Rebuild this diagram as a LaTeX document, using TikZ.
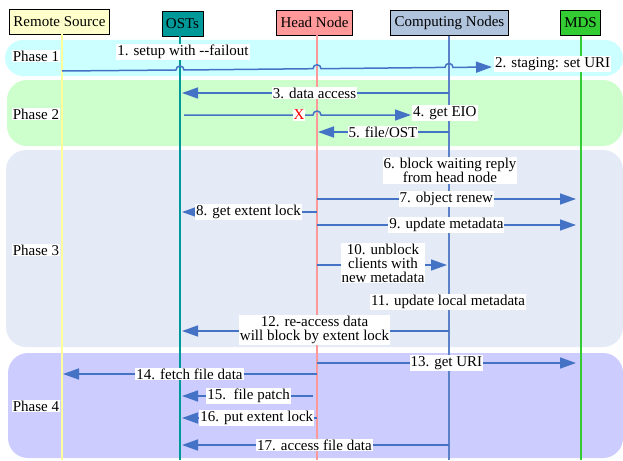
\documentclass[tikz,border=0pt]{standalone}
\usepackage{fontspec}
\setmainfont{Liberation Serif}
\usetikzlibrary{arrows.meta}
\definecolor{msgblue}{HTML}{4472C4}
\definecolor{pone}{HTML}{CCFFFF}
\definecolor{ptwo}{HTML}{CCFFCC}
\definecolor{pthree}{HTML}{E5EBF6}
\definecolor{pfour}{HTML}{CCCCFF}
\definecolor{rsfill}{HTML}{FFFFCC}
\definecolor{rsline}{HTML}{FFFF99}
\definecolor{ostcol}{HTML}{009999}
\definecolor{hncol}{HTML}{FF9999}
\definecolor{cnfill}{HTML}{B0C4DE}
\definecolor{cnline}{HTML}{5B82C8}
\definecolor{mdscol}{HTML}{33CC33}
\begin{document}
\begin{tikzpicture}[x=1pt,y=-1pt,font=\fontsize{15}{14}\selectfont,
  msg/.style={draw=msgblue,line width=1.5pt,-{Triangle[length=16pt,width=11pt]},shorten >=2pt},
  lbl/.style={fill=white,inner sep=1pt,align=center},
  hdr/.style={draw=black,line width=0.8pt,minimum height=25pt,inner xsep=4pt,inner ysep=0pt},
  phase/.style={rounded corners=20pt},
  life/.style={line width=1.5pt}]
\useasboundingbox (0,0) rectangle (623,460);
% phases
\fill[pone,rounded corners=18pt] (5,40) rectangle (623,76);
\fill[ptwo,phase] (7,80) rectangle (623,146);
\fill[pthree,phase] (6,150) rectangle (623,347);
\fill[pfour,phase] (8,353) rectangle (623,458);
% headers
\node[hdr,fill=rsfill] (RS) at (59.5,21.5) {Remote Source};
\node[hdr,fill=ostcol] (OST) at (182.5,23.5) {OSTs};
\node[hdr,fill=hncol] (HN) at (314.5,22.5) {Head Node};
\node[hdr,fill=cnfill] (CN) at (449.5,23) {Computing Nodes};
\node[hdr,fill=mdscol] (MDS) at (580.5,23) {MDS};
% lifelines
\coordinate (lRS) at (62,0);
\coordinate (lOST) at (180,0);
\coordinate (lHN) at (317,0);
\coordinate (lCN) at (449,0);
\coordinate (lMDS) at (581,0);
\coordinate (bot) at (0,460);
\draw[life,rsline] (lRS |- RS.south) -- (lRS |- bot);
\draw[life,ostcol] (lOST |- OST.south) -- (lOST |- bot);
\draw[life,hncol] (lHN |- HN.south) -- (lHN |- bot);
\draw[life,cnline] (lCN |- CN.south) -- (lCN |- bot);
\draw[life,mdscol] (lMDS |- MDS.south) -- (lMDS |- bot);
% phase labels
\node[lbl] (ph1) at (36,56) {Phase 1};
\node[lbl] (ph2) at (36,114) {Phase 2};
\node[lbl] (ph3) at (36,250) {Phase 3};
\node[lbl] (ph4) at (36,406) {Phase 4};
% 1 / 2
\coordinate (e2) at (492,67);
\draw[msg,shorten >=0pt] (lRS |- 0,71) -- (176,70) arc[start angle=180,end angle=0,radius=4pt]
  -- (313,68.7) arc[start angle=180,end angle=0,radius=4pt]
  -- (445,67.4) arc[start angle=180,end angle=0,radius=4pt] -- (e2);
\node[lbl] (m1) at (183,52) {1. setup with -{}-failout};
\node[lbl,anchor=west] (m2) at (494,64) {2. staging: set URI};
% 3
\draw[msg] (lCN |- 0,93) -- (lOST |- 0,93) node[lbl,midway] {3. data access};
% 4
\coordinate (e4) at (411,115);
\draw[msg,shorten <=4pt,shorten >=0pt] (lOST |- 0,115) -- (313,115) arc[start angle=180,end angle=0,radius=4pt] -- (e4);
\node[lbl,text=red] (x) at (299,115) {X};
\node[lbl,anchor=west] (m4) at (412,113) {4. get EIO};
% 5
\draw[msg,shorten >=1pt] (lCN |- 0,132) -- (lHN |- 0,132) node[lbl,midway] {5. file/OST};
% 6
\node[lbl] (m6) at (450,170.5) {6. block waiting reply\\from head node};
% 7
\draw[msg,shorten >=5pt] (lHN |- 0,199) -- (lMDS |- 0,199) node[lbl,pos=0.49] {7. object renew};
% 8
\draw[msg] (lHN |- 0,212) -- (lOST |- 0,212) node[lbl,midway] {8. get extent lock};
% 9
\draw[msg,shorten >=5pt] (lHN |- 0,225) -- (lMDS |- 0,225) node[lbl,pos=0.49] {9. update metadata};
% 10
\draw[msg] (lHN |- 0,265) -- (lCN |- 0,265) node[lbl,midway,yshift=2pt] {10. unblock\\clients with\\new metadata};
% 11
\node[lbl] (m11) at (448,302) {11. update local metadata};
% 12
\draw[msg] (lCN |- 0,331) -- (lOST |- 0,331) node[lbl,midway,yshift=1pt] {12. re-access data\\will block by extent lock};
% 13
\draw[msg,shorten >=5pt] (lHN |- 0,363) -- (lMDS |- 0,363) node[lbl,pos=0.49] {13. get URI};
% 14
\draw[msg,shorten >=1pt] (lHN |- 0,374) -- (lRS |- 0,374) node[lbl,midway] {14. fetch file data};
% 15
\draw[msg,shorten <=4pt] (lHN |- 0,396) -- (lOST |- 0,396) node[lbl,midway] {15.\ \ file patch};
% 16
\draw[msg] (lHN |- 0,418) -- (lOST |- 0,418) node[lbl,pos=0.44] {16. put extent lock};
% 17
\draw[msg] (lCN |- 0,445) -- (lOST |- 0,445) node[lbl,midway] {17. access file data};
\end{tikzpicture}
\end{document}
